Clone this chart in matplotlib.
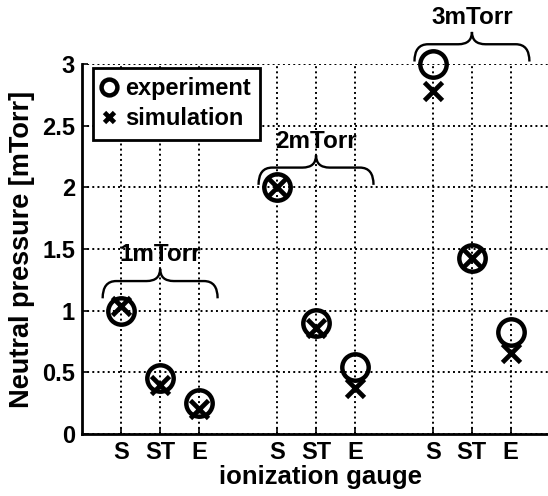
import numpy as np
import matplotlib.pyplot as plt
from matplotlib.path import Path
from matplotlib.patches import PathPatch

plt.rcParams['font.family'] = ['Liberation Sans', 'DejaVu Sans']
plt.rcParams['font.weight'] = 'bold'

# Data
positions = [1, 2, 3, 5, 6, 7, 9, 10, 11]
gauge_labels = ['S', 'ST', 'E', 'S', 'ST', 'E', 'S', 'ST', 'E']
experiment = [1.00, 0.45, 0.25, 2.00, 0.90, 0.54, 3.00, 1.43, 0.83]
simulation = [1.04, 0.40, 0.20, 2.00, 0.86, 0.37, 2.78, 1.43, 0.66]

# Pressure groups (first/last gauge position, brace level)
group_names = ['1mTorr', '2mTorr', '3mTorr']
group_start = [1, 5, 9]
group_end = [3, 7, 11]
brace_levels = [1.24, 2.16, 3.16]

fs = 17

fig = plt.figure(figsize=(5.48, 4.96), dpi=100)
ax = fig.add_axes([0.1496, 0.125, 0.872, 0.746])

ax.plot(positions, experiment, 'o', mfc='none', mec='k', ms=19, mew=3.2,
        label='experiment', clip_on=False, zorder=3)
ax.plot(positions, simulation, 'x', color='k', ms=13, mew=3.4,
        label='simulation', clip_on=False, zorder=3)


def brace(ax, x0, x1, y):
    # curly brace opening downward, tip pointing up
    drop = 0.14
    tip = 0.10
    d = 0.35
    xm = (x0 + x1) / 2
    verts = [(x0, y - drop), (x0, y), (x0 + d, y),
             (xm - d, y), (xm, y), (xm, y + tip),
             (xm, y), (xm + d, y),
             (x1 - d, y), (x1, y), (x1, y - drop)]
    codes = [Path.MOVETO, Path.CURVE3, Path.CURVE3,
             Path.LINETO, Path.CURVE3, Path.CURVE3,
             Path.CURVE3, Path.CURVE3,
             Path.LINETO, Path.CURVE3, Path.CURVE3]
    ax.add_patch(PathPatch(Path(verts, codes), fc='none', ec='k', lw=1.7,
                           clip_on=False))
    return xm, y + tip


for name, s, e, lvl in zip(group_names, group_start, group_end, brace_levels):
    xm, ytop = brace(ax, s - 0.47, e + 0.48, lvl)
    ax.text(xm, ytop + 0.02, name, ha='center', va='bottom', fontsize=17.5,
            fontweight='bold', clip_on=False)

ax.set_xlim(0, 12.26)
ax.set_ylim(0, 3)
ax.set_xticks(positions)
ax.set_xticklabels(gauge_labels)
ax.set_yticks(np.arange(0, 3.01, 0.5))
ax.set_yticklabels(['0', '0.5', '1', '1.5', '2', '2.5', '3'])
ax.tick_params(labelsize=fs, direction='in', length=4, width=1.2, pad=5)
for lab in ax.get_xticklabels() + ax.get_yticklabels():
    lab.set_fontweight('bold')

ax.grid(True, linestyle=':', color='k', linewidth=1.4)
ax.set_axisbelow(True)
ax.spines['top'].set_visible(False)
ax.spines['right'].set_visible(False)
ax.spines['left'].set_linewidth(2)
ax.spines['bottom'].set_linewidth(2)

ax.set_xlabel('ionization gauge', fontsize=18.5, fontweight='bold', labelpad=1)
ax.set_ylabel('Neutral pressure [mTorr]', fontsize=19.5, fontweight='bold', labelpad=5)

leg = ax.legend(loc='upper left', bbox_to_anchor=(0.023, 0.99), fontsize=fs,
                handlelength=0.6, handletextpad=0.35, borderpad=0.4,
                labelspacing=0.3, fancybox=False, framealpha=1,
                borderaxespad=0, markerscale=0.6)
leg.get_frame().set_edgecolor('k')
leg.get_frame().set_linewidth(2)
for t in leg.get_texts():
    t.set_fontweight('bold')

fig.savefig('out.png', dpi=100)
